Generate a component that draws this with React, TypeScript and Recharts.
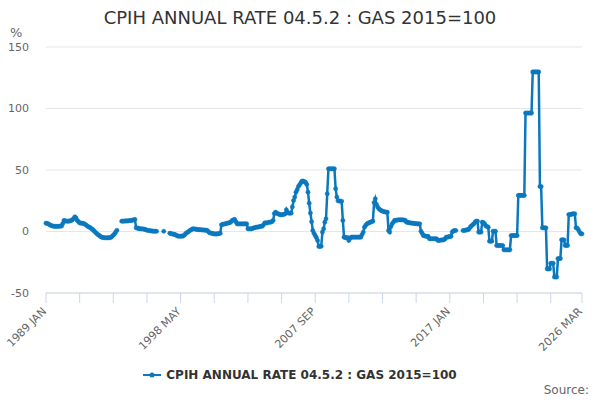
import { LineChart, Line, XAxis, YAxis, CartesianGrid, Legend } from "recharts";

const MONTHS = ["JAN", "FEB", "MAR", "APR", "MAY", "JUN", "JUL", "AUG", "SEP", "OCT", "NOV", "DEC"];
const START_YEAR = 1989;

// monthly annual rate, %, one row per year (1989 JAN .. 2026 MAR), null = no figure
const gasRate: (number | null)[] = [
  6.8, 6.5, 6.2, 5.5, 5.0, 4.6, 4.3, 4.2, 4.2, 4.2, 4.2, 4.3, // 1989
  4.3, 4.5, 6.5, 9.0, 8.6, 8.4, 8.4, 8.4, 8.6, 9.0, 9.5, 10.5, // 1990
  12.0, 11.0, 9.0, 8.0, 7.0, 6.8, 6.8, 6.5, 6.2, 5.5, 4.8, 4.0, // 1991
  3.5, 3.0, 2.2, 1.5, 0.5, -0.5, -1.5, -2.4, -3.0, -3.8, -4.5, -4.8, // 1992
  -5.0, -5.1, -5.1, -5.1, -5.1, -5.0, -4.8, -4.0, -3.0, -2.0, -0.5, 1.0, // 1993
  null, null, null, 8.4, 8.4, 8.4, 8.6, 8.6, 8.6, 8.8, 8.8, 9.0, // 1994
  9.2, 9.5, 9.8, 3.0, 2.8, 2.5, 2.2, 2.2, 2.2, 2.0, 1.8, 1.5, // 1995
  1.0, 0.8, 0.8, 0.6, 0.4, 0.3, 0.2, 0.2, 0.2, null, null, null, // 1996
  null, null, 0.2, null, null, null, null, -1.4, -1.8, -2.0, -2.2, -2.4, // 1997
  -2.8, -3.5, -3.8, -3.8, -3.8, -3.8, -3.8, -3.0, -2.0, -1.0, -0.5, 0.2, // 1998
  1.0, 1.5, 2.2, 2.2, 2.0, 1.8, 1.6, 1.5, 1.5, 1.4, 1.3, 1.2, // 1999
  1.1, 1.0, 1.0, 0.0, -1.0, -1.2, -1.5, -1.8, -2.0, -2.0, -2.0, -2.0, // 2000
  -1.5, -1.5, 5.5, 5.8, 6.0, 6.2, 6.5, 6.8, 7.0, 7.2, 8.0, 9.0, // 2001
  9.5, 9.8, 8.0, 6.2, 6.2, 6.2, 6.2, 6.2, 6.2, 6.2, 6.2, 6.2, // 2002
  2.2, 2.2, 2.2, 2.2, 2.5, 3.0, 3.2, 3.5, 3.5, 3.8, 4.0, 4.3, // 2003
  4.3, 5.5, 7.0, 7.0, 7.0, 7.3, 7.6, 7.6, 8.0, 9.0, 14.6, 15.7, // 2004
  15.0, 14.4, 14.0, 13.6, 13.6, 13.8, 14.0, 14.4, 17.7, 15.5, 14.9, 14.9, // 2005
  14.9, 20.0, 25.2, 28.0, 32.0, 34.0, 36.6, 38.0, 39.5, 41.0, 41.0, 40.5, // 2006
  40.0, 38.3, 32.0, 23.0, 15.0, 8.0, 0.8, -1.5, -3.3, -5.0, -7.3, -12.2, // 2007
  -12.2, -12.0, -0.5, 2.2, 7.6, 10.3, 30.7, 51.0, 51.0, 51.0, 51.0, 51.0, // 2008
  51.0, 34.8, 28.0, 25.0, 24.8, 24.6, 24.6, 9.0, -4.6, -5.0, -5.0, -5.0, // 2009
  -7.3, -5.5, -4.6, -4.6, -4.6, -4.6, -4.6, -4.6, -4.6, -4.6, -4.6, -2.5, // 2010
  -0.5, 3.5, 5.0, 6.2, 6.8, 7.2, 7.6, 8.0, 8.4, 23.5, 26.6, 22.0, // 2011
  19.8, 18.5, 17.7, 17.0, 16.5, 16.2, 16.0, 15.7, 15.7, 0.8, -0.5, 4.0, // 2012
  6.2, 7.5, 9.0, 9.0, 9.2, 9.5, 9.5, 9.5, 9.5, 9.5, 9.2, 9.0, // 2013
  7.6, 7.4, 7.2, 7.0, 6.8, 6.8, 6.6, 6.5, 6.4, 6.2, 6.2, 6.2, // 2014
  0.2, -1.5, -3.3, -3.5, -3.8, -4.0, -4.0, -5.9, -5.9, -5.9, -5.9, -5.9, // 2015
  -5.9, -5.9, -7.3, -7.3, -7.0, -7.0, -6.8, -6.8, -6.0, -4.6, -4.6, -4.3, // 2016
  -4.0, -4.0, -0.5, 0.5, 0.8, 0.8, null, null, null, null, null, 0.8, // 2017
  0.8, 1.0, 1.4, 1.4, 2.0, 3.5, 4.5, 5.5, 6.2, 7.6, 8.4, 8.4, // 2018
  -0.5, -0.5, -0.5, 7.6, 7.2, 6.2, 4.5, 4.0, 3.5, -7.9, -7.9, -7.9, // 2019
  0.2, 0.2, 0.2, -11.4, -11.4, -11.4, -11.4, -11.4, -11.4, -14.9, -14.9, -14.9, // 2020
  -14.9, -14.9, -14.9, -3.3, -3.3, -3.3, -3.3, -3.3, -3.3, 29.3, 29.3, 29.3, // 2021
  29.3, 29.3, 29.3, 96.3, 96.3, 96.3, 96.3, 96.3, 96.3, 129.7, 129.7, 129.7, // 2022
  129.7, 129.7, 129.7, 36.6, 36.6, 3.0, 3.0, 3.0, 3.0, -30.4, -30.4, -30.4, // 2023
  -25.8, -25.8, -25.8, -37.0, -37.0, -37.0, -22.0, -22.0, -22.0, -6.8, -6.8, -6.8, // 2024
  -11.4, -11.4, -11.4, 13.8, 13.8, 13.8, 14.4, 14.4, 14.4, 3.0, 2.8, 1.4, // 2025
  -0.5, -1.9, -1.9, // 2026
];

const yTicks = [-50, 0, 50, 100, 150];
const labelledTicks = ["1989 JAN", "1998 MAY", "2007 SEP", "2017 JAN", "2026 MAR"];

const SERIES_NAME = "CPIH ANNUAL RATE 04.5.2 : GAS 2015=100";
const BLUE = "#0b78be";
const FONT = "'DejaVu Sans', sans-serif";

const categories = gasRate.map(
  (_, i) => `${START_YEAR + Math.floor(i / 12)} ${MONTHS[i % 12]}`
);
const chartData = categories.map((month, i) => ({ month, rate: gasRate[i] }));
// tick marks every 28 months, labels on every fourth one plus the last month
const tickMarks = categories.filter(
  (_, i) => i % 28 === 0 || i === categories.length - 1
);

function MonthTick(props: any) {
  const { x, y, payload } = props;
  if (!labelledTicks.includes(payload.value)) return null;
  const ax = x + 1;
  const ay = y + 7;
  return (
    <text
      x={ax}
      y={ay}
      transform={`rotate(-45 ${ax} ${ay})`}
      textAnchor="end"
      fontSize={11}
      fill="#666666"
      fontFamily={FONT}
    >
      {payload.value}
    </text>
  );
}

function LegendContent() {
  return (
    <div
      style={{
        display: "flex",
        justifyContent: "center",
        alignItems: "center",
        fontFamily: FONT,
        fontSize: 12,
        fontWeight: "bold",
        color: "#333333",
      }}
    >
      <svg width={18} height={10} style={{ marginRight: 5 }}>
        <line x1={0} y1={5} x2={18} y2={5} stroke={BLUE} strokeWidth={2} />
        <circle cx={9} cy={5} r={2.5} fill={BLUE} />
      </svg>
      <span>{SERIES_NAME}</span>
    </div>
  );
}

export default function App() {
  return (
    <div style={{ position: "relative", width: 600, height: 400, fontFamily: FONT }}>
      <style>{"body{margin:0}"}</style>
      <div
        style={{
          position: "absolute",
          top: 7,
          left: 0,
          width: 600,
          textAlign: "center",
          fontSize: 18,
          color: "#333333",
          lineHeight: "22px",
        }}
      >
        {SERIES_NAME}
      </div>
      <div
        style={{
          position: "absolute",
          top: 25,
          left: 10,
          fontSize: 13,
          color: "#666666",
          lineHeight: "16px",
        }}
      >
        %
      </div>
      <LineChart
        width={600}
        height={400}
        data={chartData}
        margin={{ top: 47, right: 18, bottom: 0, left: 0 }}
      >
        <CartesianGrid vertical={false} stroke="#e6e6e6" />
        <XAxis
          dataKey="month"
          ticks={tickMarks}
          interval={0}
          height={107}
          tickSize={10}
          tickLine={{ stroke: "#ccd6eb" }}
          axisLine={{ stroke: "#ccd6eb" }}
          tick={<MonthTick />}
        />
        <YAxis
          domain={[-50, 150]}
          ticks={yTicks}
          width={46}
          axisLine={false}
          tickLine={false}
          tickSize={0}
          tickMargin={17}
          tick={{ fill: "#666666", fontSize: 11, fontFamily: FONT }}
        />
        <Legend
          layout="horizontal"
          verticalAlign="middle"
          align="center"
          wrapperStyle={{ top: 368, left: 0, width: 600 }}
          content={<LegendContent />}
        />
        <Line
          type="linear"
          dataKey="rate"
          name={SERIES_NAME}
          stroke={BLUE}
          strokeWidth={2.5}
          dot={{ r: 2.1, fill: BLUE, stroke: BLUE, strokeWidth: 0.5 }}
          activeDot={false}
          connectNulls={false}
          isAnimationActive={false}
        />
      </LineChart>
      <div
        style={{
          position: "absolute",
          top: 382,
          right: 11,
          fontSize: 12,
          color: "#666666",
          lineHeight: "16px",
        }}
      >
        Source:
      </div>
    </div>
  );
}
